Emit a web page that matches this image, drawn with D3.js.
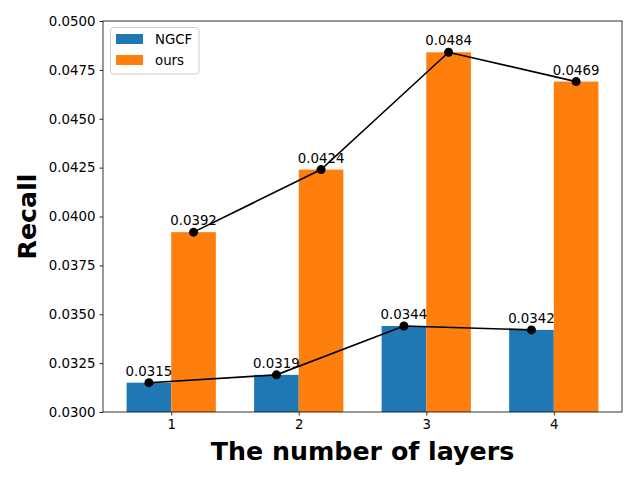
<!DOCTYPE html>
<html>
<head>
<meta charset="utf-8">
<script src="https://cdn.jsdelivr.net/npm/d3@7"></script>
<style>
  body { margin: 0; background: #fff; }
  text { font-family: "DejaVu Sans", sans-serif; }
</style>
</head>
<body>
<div id="chart"></div>
<script>
// data
const layers = [ 1, 2, 3, 4 ];
const ngcfValues = [ 0.0315, 0.0319, 0.0344, 0.0342 ];
const oursValues = [ 0.0392, 0.0424, 0.0484, 0.0469 ];
const yTicks = [ 0.0300, 0.0325, 0.0350, 0.0375, 0.0400, 0.0425, 0.0450, 0.0475, 0.0500 ];
const seriesNames = [ 'NGCF', 'ours' ];
const seriesColors = [ '#1f77b4', '#ff7f0e' ];

const width = 640;
const height = 480;
const margin = { top: 21, right: 18, bottom: 68, left: 103 };
const barWidth = 0.35;

const svg = d3.select( '#chart' ).append( 'svg' )
	.attr( 'width', width )
	.attr( 'height', height );

const x = d3.scaleLinear()
	.domain( [ 0.465, 4.535 ] )
	.range( [ margin.left, width - margin.right ] );

const y = d3.scaleLinear()
	.domain( [ 0.03, 0.05 ] )
	.range( [ height - margin.bottom, margin.top ] );

const series = [ ngcfValues, oursValues ];
const offsets = [ -barWidth / 2, barWidth / 2 ];

const plot = svg.append( 'g' );

// bars
series.forEach( ( values, i ) => {
	plot.selectAll( null )
		.data( values )
		.enter()
		.append( 'rect' )
		.attr( 'x', ( d, j ) => x( layers[ j ] + offsets[ i ] - barWidth / 2 ) )
		.attr( 'width', x( barWidth ) - x( 0 ) )
		.attr( 'y', ( d ) => y( d ) )
		.attr( 'height', ( d ) => y( 0.03 ) - y( d ) )
		.attr( 'fill', seriesColors[ i ] );
} );

// lines + markers + labels
const line = d3.line()
	.x( ( d ) => x( d.x ) )
	.y( ( d ) => y( d.v ) );

series.forEach( ( values, i ) => {
	const pts = values.map( ( v, j ) => ( { x: layers[ j ] + offsets[ i ], v } ) );

	plot.append( 'path' )
		.datum( pts )
		.attr( 'd', line )
		.attr( 'fill', 'none' )
		.attr( 'stroke', '#000' )
		.attr( 'stroke-width', 1.6 );

	plot.selectAll( null )
		.data( pts )
		.enter()
		.append( 'circle' )
		.attr( 'cx', ( d ) => x( d.x ) )
		.attr( 'cy', ( d ) => y( d.v ) )
		.attr( 'r', 4.5 )
		.attr( 'fill', '#000' );

	plot.selectAll( null )
		.data( pts )
		.enter()
		.append( 'text' )
		.attr( 'x', ( d ) => x( d.x ) )
		.attr( 'y', ( d ) => y( d.v ) - 7 )
		.attr( 'text-anchor', 'middle' )
		.attr( 'font-size', '13.33px' )
		.attr( 'fill', '#000' )
		.text( ( d ) => d.v.toFixed( 4 ) );
} );

// axes
const xAxis = svg.append( 'g' )
	.attr( 'transform', `translate(0,${ height - margin.bottom })` )
	.call( d3.axisBottom( x ).tickValues( layers ).tickFormat( d3.format( 'd' ) ).tickSize( 3.5 ).tickPadding( 4 ) );

const yAxis = svg.append( 'g' )
	.attr( 'transform', `translate(${ margin.left },0)` )
	.call( d3.axisLeft( y ).tickValues( yTicks ).tickFormat( d3.format( '.4f' ) ).tickSize( 3.5 ).tickPadding( 4 ) );

[ xAxis, yAxis ].forEach( ( ax ) => {
	ax.select( '.domain' ).remove();
	ax.selectAll( 'line' ).attr( 'stroke', '#000' ).attr( 'stroke-width', 0.8 );
	ax.selectAll( 'text' )
		.attr( 'font-size', '13.33px' )
		.attr( 'fill', '#000' )
		.style( 'font-family', '"DejaVu Sans", sans-serif' );
} );

// frame
svg.append( 'rect' )
	.attr( 'x', margin.left )
	.attr( 'y', margin.top )
	.attr( 'width', width - margin.left - margin.right )
	.attr( 'height', height - margin.top - margin.bottom )
	.attr( 'fill', 'none' )
	.attr( 'stroke', '#000' )
	.attr( 'stroke-width', 0.8 );

// axis titles
svg.append( 'text' )
	.attr( 'x', ( margin.left + width - margin.right ) / 2 )
	.attr( 'y', 460 )
	.attr( 'text-anchor', 'middle' )
	.attr( 'font-size', '25.3px' )
	.attr( 'font-weight', 'bold' )
	.text( 'The number of layers' );

svg.append( 'text' )
	.attr( 'transform', `translate(36,${ ( margin.top + height - margin.bottom ) / 2 }) rotate(-90)` )
	.attr( 'text-anchor', 'middle' )
	.attr( 'font-size', '25.3px' )
	.attr( 'font-weight', 'bold' )
	.text( 'Recall' );

// legend
const legend = svg.append( 'g' ).attr( 'transform', `translate(${ margin.left + 7.5 },${ margin.top + 6.5 })` );

legend.append( 'rect' )
	.attr( 'width', 88.5 )
	.attr( 'height', 46.5 )
	.attr( 'rx', 3 )
	.attr( 'fill', '#fff' )
	.attr( 'fill-opacity', 0.8 )
	.attr( 'stroke', '#ccc' )
	.attr( 'stroke-width', 1 );

seriesNames.forEach( ( name, i ) => {
	legend.append( 'rect' )
		.attr( 'x', 5.5 )
		.attr( 'y', 6.5 + i * 21 )
		.attr( 'width', 27 )
		.attr( 'height', 10 )
		.attr( 'fill', seriesColors[ i ] );

	legend.append( 'text' )
		.attr( 'x', 44.5 )
		.attr( 'y', 16.5 + i * 21 )
		.attr( 'font-size', '13.33px' )
		.attr( 'fill', '#000' )
		.text( name );
} );
</script>
</body>
</html>
